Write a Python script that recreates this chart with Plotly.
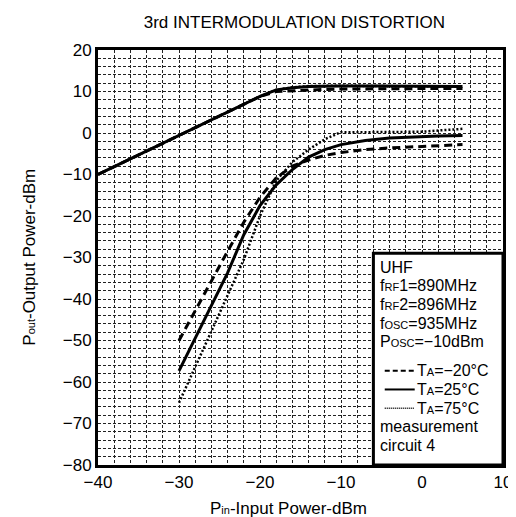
import plotly.graph_objects as go

# Fundamental output (upper curves)
x_fund = [-40, -30, -20, -18, -16, -14, -12, -10, -5, 0, 5]
fund_m20 = [-10, -0.6, 8.8, 10.0, 10.2, 10.4, 10.5, 10.6, 10.7, 10.7, 10.7]
fund_25 = [-10, -0.6, 8.8, 10.4, 10.9, 11.2, 11.3, 11.3, 11.3, 11.2, 11.2]
fund_75 = [-10, -0.6, 8.8, 10.4, 11.0, 11.3, 11.4, 11.4, 11.3, 11.2, 11.2]

# Third-order intermodulation (lower curves)
x_im3 = [-30, -26, -24, -22, -20, -18, -16, -14, -12, -10, -7, -4, 0, 2, 5]
im3_m20 = [-50, -35.5, -28.5, -21.5, -15.5, -10.8, -8.0, -6.5, -5.4, -4.7, -4.0, -3.6, -3.2, -3.0, -2.8]
im3_25 = [-57.3, -41.5, -33.7, -24.5, -17.5, -12.5, -8.8, -5.8, -4.0, -2.8, -1.8, -1.2, -0.8, -0.7, -0.6]
im3_75 = [-65, -47.8, -39.2, -30.5, -20.0, -11.5, -7.0, -4.0, -1.5, 0.2, 0.2, 0.2, 0.3, 0.6, 1.0]

x_ticks = [-40, -30, -20, -10, 0, 10]
y_ticks = [20, 10, 0, -10, -20, -30, -40, -50, -60, -70, -80]

FONT = "Liberation Sans, Arial, Helvetica, sans-serif"
FS = 17
FSB = 16

fig = go.Figure()

styles = {
    "m20": dict(color="black", width=3, dash="8px,5px"),
    "25": dict(color="black", width=3, dash="solid"),
    "75": dict(color="black", width=2.5, dash="2px,2px"),
}

for xs, ys, st in [
    (x_fund, fund_m20, "m20"), (x_fund, fund_25, "25"), (x_fund, fund_75, "75"),
    (x_im3, im3_m20, "m20"), (x_im3, im3_25, "25"), (x_im3, im3_75, "75"),
]:
    fig.add_trace(go.Scatter(x=xs, y=ys, mode="lines", line=styles[st],
                             showlegend=False, hoverinfo="skip"))

grid_common = dict(gridcolor="#222", gridwidth=1, griddash="3px,2px")
minor_grid = dict(dtick=2, showgrid=True, gridcolor="#222", gridwidth=1, griddash="3px,2px")

fig.update_xaxes(range=[-40, 10], tickvals=x_ticks, showgrid=True, **grid_common,
                 minor=minor_grid,
                 showline=True, linecolor="black", linewidth=3, mirror=True,
                 ticks="", zeroline=False,
                 tickfont=dict(family=FONT, size=FS, color="black"))
fig.update_yaxes(range=[-80, 20], tickvals=y_ticks, showgrid=True, **grid_common,
                 minor=minor_grid,
                 showline=True, linecolor="black", linewidth=3, mirror=True,
                 ticks="", zeroline=False,
                 tickfont=dict(family=FONT, size=FS, color="black"))

# Info box
fig.add_shape(type="rect", x0=-6, x1=10, y0=-80, y1=-29, xref="x", yref="y",
              line=dict(color="black", width=3), fillcolor="white", layer="above")

sm = "<span style='font-size:11px'>"
lines = [
    ("UHF", -32.3),
    (f"f{sm}RF</span>1=890MHz", -36.8),
    (f"f{sm}RF</span>2=896MHz", -41.3),
    (f"f{sm}OSC</span>=935MHz", -45.8),
    (f"P{sm}OSC</span>=\u221210dBm", -50.3),
    ("measurement", -70.8),
    ("circuit 4", -75.3),
]
for txt, yy in lines:
    fig.add_annotation(x=-5.3, y=yy, xref="x", yref="y", text=txt, showarrow=False,
                       xanchor="left", yanchor="middle", borderpad=0,
                       font=dict(family=FONT, size=FSB, color="black"))

leg = [
    (f"T{sm}A</span>=\u221220\u00b0C", -57.3, "m20"),
    (f"T{sm}A</span>=25\u00b0C", -61.8, "25"),
    (f"T{sm}A</span>=75\u00b0C", -66.3, "75"),
]
for txt, yy, st in leg:
    d = dict(styles[st])
    d["width"] = 2 if st != "75" else 1.5
    if st == "m20":
        d["dash"] = "5px,3px"
    if st == "75":
        d["dash"] = "1px,1px"
    fig.add_shape(type="line", x0=-4.6, x1=-0.9, y0=yy, y1=yy, xref="x", yref="y",
                  line=d, layer="above")
    fig.add_annotation(x=-0.8, y=yy, xref="x", yref="y", text=txt, showarrow=False,
                       xanchor="left", yanchor="middle", borderpad=0,
                       font=dict(family=FONT, size=FSB, color="black"))

fig.update_layout(
    width=516, height=517,
    margin=dict(l=90, r=21, t=42, b=60),
    paper_bgcolor="white", plot_bgcolor="white",
    title=dict(text="3rd INTERMODULATION DISTORTION", x=0.555, xanchor="center",
               y=0.972, yanchor="middle",
               font=dict(family=FONT, size=17, color="black")),
    showlegend=False,
)
fig.add_annotation(x=0.47, y=-0.105, xref="paper", yref="paper", yanchor="middle",
                   text=f"P{sm}in</span>-Input Power-dBm", showarrow=False,
                   font=dict(family=FONT, size=FS, color="black"))
fig.add_annotation(x=-0.17, y=0.5, xref="paper", yref="paper", xanchor="center",
                   text=f"P{sm}out</span>-Output Power-dBm", showarrow=False, textangle=-90,
                   font=dict(family=FONT, size=FS, color="black"))

fig.write_html("out.html")
